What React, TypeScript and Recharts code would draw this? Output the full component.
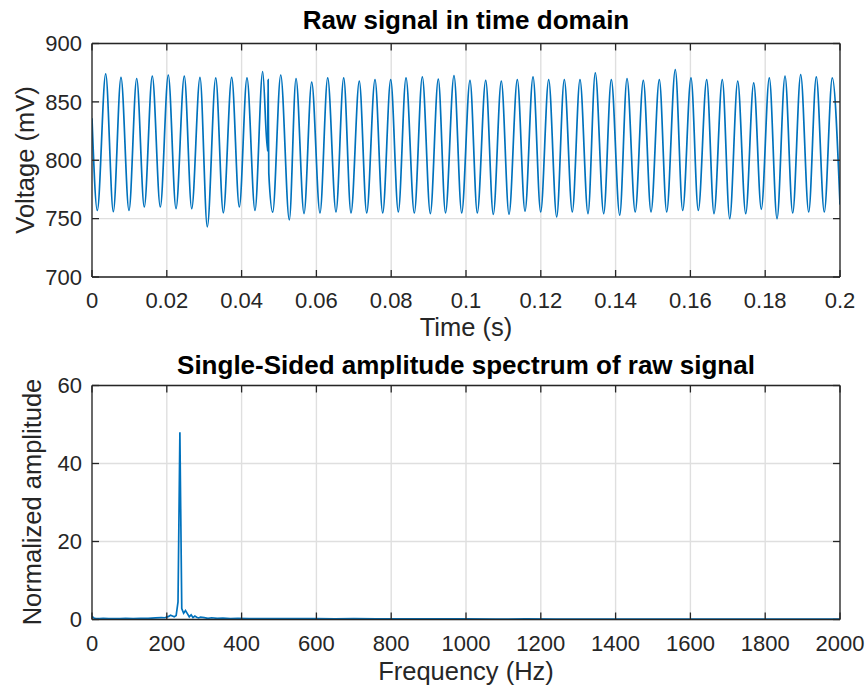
import React from 'react';
import { LineChart, Line, XAxis, YAxis, CartesianGrid } from 'recharts';

// ---------- Data ----------
// Raw signal: sampled extrema / key points of the waveform
const timeS = [
  0, 0.00142, 0.00366, 0.0057, 0.00775, 0.00989, 0.01195, 0.01398, 0.01612, 0.01826,
  0.0204, 0.02246, 0.02468, 0.02666, 0.02888, 0.03083, 0.03308, 0.03511, 0.03735, 0.03939,
  0.04144, 0.04358, 0.04564, 0.04695, 0.04709, 0.04727, 0.04832, 0.05046, 0.05276, 0.05455,
  0.05669, 0.05874, 0.06096, 0.06302, 0.06524, 0.0673, 0.06925, 0.07147, 0.07345, 0.07567,
  0.07773, 0.07987, 0.0819, 0.08396, 0.08618, 0.08832, 0.09046, 0.09259, 0.09452, 0.09679,
  0.09885, 0.10107, 0.10302, 0.10527, 0.1073, 0.10944, 0.1115, 0.11372, 0.11578, 0.11792,
  0.11997, 0.12211, 0.12425, 0.12628, 0.12842, 0.13048, 0.13262, 0.13457, 0.13682, 0.13885,
  0.1411, 0.14305, 0.14524, 0.14741, 0.14947, 0.15169, 0.15366, 0.15596, 0.15794, 0.16016,
  0.16211, 0.16436, 0.16631, 0.16853, 0.17051, 0.17265, 0.17479, 0.17693, 0.17896, 0.1811,
  0.18316, 0.1853, 0.18735, 0.18949, 0.19163, 0.19366, 0.1958, 0.19794, 0.2,
];
const voltageMV = [
  836, 757, 874, 756, 871, 757, 870, 760, 872, 760,
  873, 758.5, 872, 758.5, 871, 743, 870.5, 755, 871, 760,
  870.5, 757, 876, 808, 869, 789, 755.5, 873, 749, 870,
  754.3, 867, 754.8, 870.5, 755.7, 870.5, 754.8, 867.7, 754.8, 869,
  754.8, 869, 755.7, 870.5, 754.8, 871.4, 754.3, 869.5, 755, 872.5,
  754.8, 868.5, 754.8, 868.5, 753.7, 867.7, 753.7, 869, 756.3, 871.4,
  755.7, 869, 751.4, 869, 755.7, 869, 754.3, 874.8, 754.3, 869,
  752.9, 870, 755.7, 868.5, 755.7, 869, 755.7, 877.7, 757, 870.5,
  757, 869, 754.3, 869, 750, 867.7, 754.3, 866.3, 758, 870.5,
  750, 872, 754.8, 873.4, 755.7, 871.4, 755.7, 870.5, 762,
];

// Single-sided amplitude spectrum
const freqHz = [
  0, 5, 10, 20, 30, 45, 60, 75, 90, 110,
  130, 150, 170, 185, 195, 205, 210, 215, 220, 225,
  230, 235, 240, 245, 250, 255, 260, 265, 270, 275,
  280, 285, 290, 300, 310, 320, 335, 350, 370, 390,
  420, 450, 480, 520, 560, 600, 650, 700, 760, 820,
  880, 940, 1000, 1080, 1160, 1240, 1320, 1400, 1480, 1560,
  1640, 1720, 1800, 1880, 1960, 2000,
];
const amplitude = [
  0.8, 0.4, 0.25, 0.2, 0.3, 0.2, 0.25, 0.2, 0.3, 0.25,
  0.3, 0.3, 0.4, 0.5, 0.45, 0.8, 1.1, 0.9, 0.7, 1.0,
  4.5, 48, 2.8, 1.6, 2.3, 1.5, 0.7, 1.2, 0.5, 0.9,
  0.6, 0.4, 0.6, 0.5, 0.3, 0.45, 0.3, 0.35, 0.25, 0.3,
  0.2, 0.25, 0.2, 0.25, 0.2, 0.2, 0.18, 0.2, 0.15, 0.18,
  0.15, 0.15, 0.15, 0.12, 0.15, 0.12, 0.12, 0.1, 0.12, 0.1,
  0.1, 0.1, 0.1, 0.1, 0.1, 0.1,
];

const timeTicks = [0, 0.02, 0.04, 0.06, 0.08, 0.1, 0.12, 0.14, 0.16, 0.18, 0.2];
const voltageTicks = [700, 750, 800, 850, 900];
const freqTicks = [0, 200, 400, 600, 800, 1000, 1200, 1400, 1600, 1800, 2000];
const ampTicks = [0, 20, 40, 60];

const titleTop = 'Raw signal in time domain';
const titleBottom = 'Single-Sided amplitude spectrum of raw signal';
const xLabelTop = 'Time (s)';
const yLabelTop = 'Voltage (mV)';
const xLabelBottom = 'Frequency (Hz)';
const yLabelBottom = 'Normalized amplitude';

const timeData = timeS.map((t, i) => ({ t, v: voltageMV[i] }));
const specData = freqHz.map((f, i) => ({ f, a: amplitude[i] }));

// ---------- Styling ----------
const FONT = '"Liberation Sans", Arial, Helvetica, sans-serif';
const AXIS = '#262626';
const GRID = '#dfdfdf';
const LINE = '#0072BD';
const TICK_FS = 22;
const LABEL_FS = 25.5;
const TITLE_FS = 26;

const fmtTime = (v: number) => String(Number(v.toFixed(2)));
const blank = () => '';

const tickStyle = { fill: AXIS, fontSize: TICK_FS, fontFamily: FONT };

const Label = ({ text, x, y, size, bold, rotate }: any) => (
  <div
    style={{
      position: 'absolute',
      left: x,
      top: y,
      transform: `translate(-50%, -50%)${rotate ? ' rotate(-90deg)' : ''}`,
      fontFamily: FONT,
      fontSize: size,
      fontWeight: bold ? 'bold' : 'normal',
      color: bold ? '#000' : AXIS,
      whiteSpace: 'nowrap',
      lineHeight: 1,
    }}
  >
    {text}
  </div>
);

export default function App() {
  return (
    <div style={{ position: 'absolute', left: 0, top: 0, width: 867, height: 695, background: '#fff' }}>
      {/* Top chart */}
      <div style={{ position: 'absolute', left: 0, top: 0 }}>
        <LineChart
          width={867}
          height={340}
          data={timeData}
          margin={{ top: 42.5, right: 26, left: 32, bottom: 23 }}
        >
          <CartesianGrid stroke={GRID} strokeWidth={1.4} horizontalValues={voltageTicks} verticalValues={timeTicks} />
          <XAxis
            dataKey="t"
            type="number"
            domain={[0, 0.2]}
            ticks={timeTicks}
            tickFormatter={fmtTime}
            interval={0}
            allowDataOverflow
            height={40}
            tickSize={-7}
            tickMargin={22}
            tick={tickStyle}
            stroke={AXIS}
            strokeWidth={1.3}
          />
          <XAxis
            xAxisId="top"
            orientation="top"
            dataKey="t"
            type="number"
            domain={[0, 0.2]}
            ticks={timeTicks}
            interval={0}
            allowDataOverflow
            height={1}
            tickSize={-7}
            tickFormatter={blank}
            stroke={AXIS}
            strokeWidth={1.3}
          />
          <YAxis
            type="number"
            domain={[700, 900]}
            ticks={voltageTicks}
            interval={0}
            allowDataOverflow
            width={60}
            tickSize={-7}
            tickMargin={17}
            tick={tickStyle}
            stroke={AXIS}
            strokeWidth={1.3}
          />
          <YAxis
            yAxisId="right"
            orientation="right"
            type="number"
            domain={[700, 900]}
            ticks={voltageTicks}
            interval={0}
            allowDataOverflow
            width={1}
            tickSize={-7}
            tickFormatter={blank}
            stroke={AXIS}
            strokeWidth={1.3}
          />
          <Line
            type="monotone"
            dataKey="v"
            stroke={LINE}
            strokeWidth={1.7}
            dot={false}
            isAnimationActive={false}
          />
        </LineChart>
      </div>

      {/* Bottom chart */}
      <div style={{ position: 'absolute', left: 0, top: 340 }}>
        <LineChart
          width={867}
          height={355}
          data={specData}
          margin={{ top: 44.5, right: 26, left: 32, bottom: 35.5 }}
        >
          <CartesianGrid stroke={GRID} strokeWidth={1.4} horizontalValues={ampTicks} verticalValues={freqTicks} />
          <XAxis
            dataKey="f"
            type="number"
            domain={[0, 2000]}
            ticks={freqTicks}
            interval={0}
            allowDataOverflow
            height={40}
            tickSize={-7}
            tickMargin={22.5}
            tick={tickStyle}
            stroke={AXIS}
            strokeWidth={1.3}
          />
          <XAxis
            xAxisId="top"
            orientation="top"
            dataKey="f"
            type="number"
            domain={[0, 2000]}
            ticks={freqTicks}
            interval={0}
            allowDataOverflow
            height={1}
            tickSize={-7}
            tickFormatter={blank}
            stroke={AXIS}
            strokeWidth={1.3}
          />
          <YAxis
            type="number"
            domain={[0, 60]}
            ticks={ampTicks}
            interval={0}
            allowDataOverflow
            width={60}
            tickSize={-7}
            tickMargin={17}
            tick={tickStyle}
            stroke={AXIS}
            strokeWidth={1.3}
          />
          <YAxis
            yAxisId="right"
            orientation="right"
            type="number"
            domain={[0, 60]}
            ticks={ampTicks}
            interval={0}
            allowDataOverflow
            width={1}
            tickSize={-7}
            tickFormatter={blank}
            stroke={AXIS}
            strokeWidth={1.3}
          />
          <Line
            type="linear"
            dataKey="a"
            stroke={LINE}
            strokeWidth={1.7}
            dot={false}
            isAnimationActive={false}
          />
        </LineChart>
      </div>

      <Label text={titleTop} x={466} y={20} size={TITLE_FS} bold />
      <Label text={xLabelTop} x={466} y={328} size={LABEL_FS} />
      <Label text={yLabelTop} x={26} y={160} size={LABEL_FS} rotate />
      <Label text={titleBottom} x={466} y={365} size={TITLE_FS} bold />
      <Label text={xLabelBottom} x={466} y={672} size={LABEL_FS} />
      <Label text={yLabelBottom} x={33} y={502} size={LABEL_FS} rotate />
    </div>
  );
}
